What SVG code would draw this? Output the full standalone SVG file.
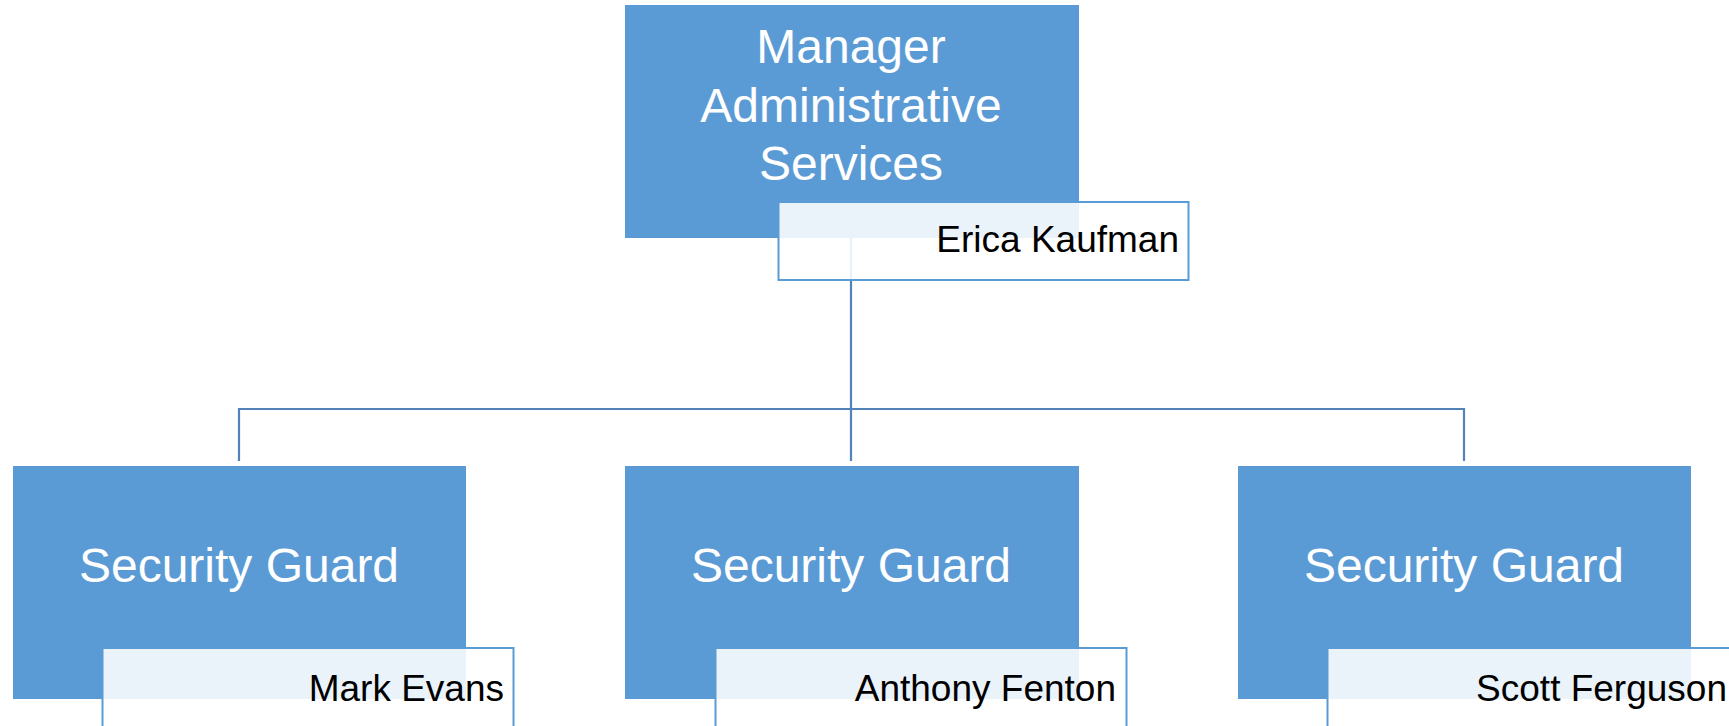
<svg xmlns="http://www.w3.org/2000/svg" width="1729" height="726" viewBox="0 0 1729 726">
<style>
.box{fill:#5B9BD5;}
.name{fill:#FFFFFF;fill-opacity:0.88;stroke:#5B9BD5;stroke-width:2;}
.title{font-family:"Liberation Sans",Arial,sans-serif;font-size:48px;fill:#FFFFFF;text-anchor:middle;}
.person{font-family:"Liberation Sans",Arial,sans-serif;font-size:37px;fill:#000000;text-anchor:end;}
.conn{fill:none;stroke:#5182B8;stroke-width:2.2;}
</style>
<rect width="1729" height="726" fill="#FFFFFF"/>
<g id="connectors">
<path class="conn" d="M851,238 V409 M239,461 V409 H1464 V461 M851,409 V461"/>
</g>
<g id="manager">
<rect class="box" x="625" y="5" width="454" height="233"/>
<text class="title" x="851" y="63">Manager</text>
<text class="title" x="851" y="122">Administrative</text>
<text class="title" x="851" y="180">Services</text>
<rect class="name" x="778.5" y="202" width="410" height="78"/>
<text class="person" x="1179" y="252">Erica Kaufman</text>
</g>
<g id="guard1">
<rect class="box" x="13" y="466" width="453" height="233"/>
<text class="title" x="239" y="582">Security Guard</text>
<rect class="name" x="102.5" y="648" width="411" height="90"/>
<text class="person" x="504" y="701">Mark Evans</text>
</g>
<g id="guard2">
<rect class="box" x="625" y="466" width="454" height="233"/>
<text class="title" x="851" y="582">Security Guard</text>
<rect class="name" x="715.5" y="648" width="411" height="90"/>
<text class="person" x="1116" y="701">Anthony Fenton</text>
</g>
<g id="guard3">
<rect class="box" x="1238" y="466" width="453" height="233"/>
<text class="title" x="1464" y="582">Security Guard</text>
<rect class="name" x="1327.5" y="648" width="411" height="90"/>
<text class="person" x="1727" y="701">Scott Ferguson</text>
</g>
</svg>
